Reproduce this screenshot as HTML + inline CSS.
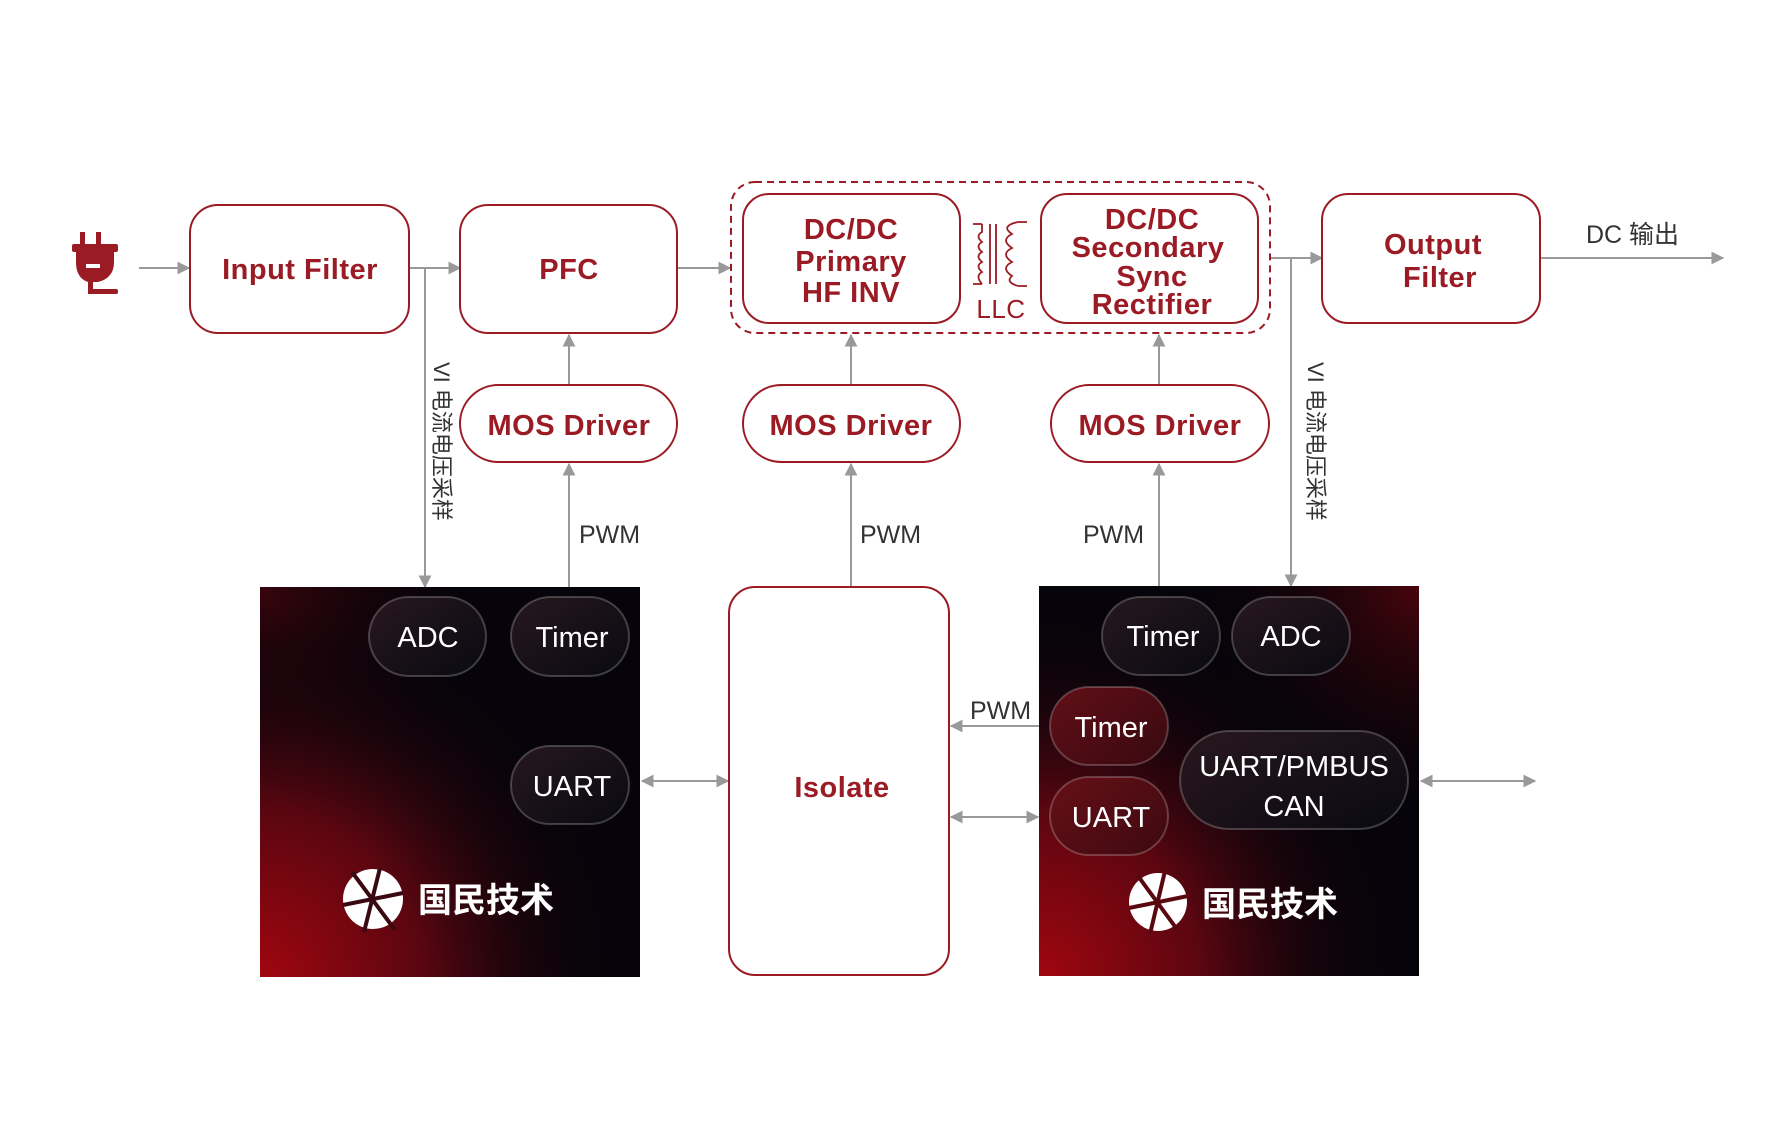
<!DOCTYPE html>
<html><head><meta charset="utf-8"><style>
html,body{margin:0;padding:0;background:#fff;width:1780px;height:1146px;overflow:hidden}
svg{display:block}
text{font-family:"Liberation Sans","Noto Sans CJK SC",sans-serif}
</style></head><body>
<svg width="1780" height="1146" viewBox="0 0 1780 1146" xmlns="http://www.w3.org/2000/svg">
<defs>
<marker id="ar" viewBox="0 0 10 10" refX="9" refY="5" markerWidth="13" markerHeight="14" markerUnits="userSpaceOnUse" orient="auto-start-reverse">
<path d="M0,0 L10,5 L0,10 z" fill="#999"/></marker>
<radialGradient id="gL1" cx="0" cy="1" r="0.95"><stop offset="0" stop-color="#a0060f"/><stop offset="0.45" stop-color="#5a0610"/><stop offset="1" stop-color="#050309" stop-opacity="0"/></radialGradient>
<radialGradient id="gL2" cx="0" cy="0" r="0.6"><stop offset="0" stop-color="#3a040c"/><stop offset="1" stop-color="#050309" stop-opacity="0"/></radialGradient>
<radialGradient id="gR1" cx="0" cy="1" r="0.95"><stop offset="0" stop-color="#a0060f"/><stop offset="0.45" stop-color="#5a0610"/><stop offset="1" stop-color="#050309" stop-opacity="0"/></radialGradient>
<radialGradient id="gR2" cx="1" cy="0" r="0.6"><stop offset="0" stop-color="#4a040c"/><stop offset="1" stop-color="#050309" stop-opacity="0"/></radialGradient>
<linearGradient id="pill" x1="0" y1="0" x2="1" y2="1"><stop offset="0" stop-color="#2a1a20" stop-opacity="0.9"/><stop offset="1" stop-color="#0a0a12" stop-opacity="0.9"/></linearGradient>
<linearGradient id="pillR" x1="0" y1="0" x2="1" y2="1"><stop offset="0" stop-color="#6a1018" stop-opacity="0.9"/><stop offset="1" stop-color="#3a0a10" stop-opacity="0.9"/></linearGradient>
</defs>

<g fill="#9b1b24">
<rect x="80" y="232" width="5" height="14"/><rect x="96" y="232" width="5" height="14"/>
<rect x="72" y="244" width="46" height="8" rx="2"/>
<path d="M76,252 H114 V262 Q114,278 98,282 H88 Q76,278 76,262 Z"/>
<rect x="88" y="282" width="5" height="12"/>
<rect x="88" y="289" width="30" height="5" rx="2"/>
</g>
<rect x="86" y="264" width="14" height="4" fill="#fff"/>

<g stroke="#999" stroke-width="2" fill="none">
<line x1="139" y1="268" x2="189" y2="268" marker-end="url(#ar)"/>
<line x1="409" y1="268" x2="460" y2="268" marker-end="url(#ar)"/>
<line x1="425" y1="268" x2="425" y2="587" marker-end="url(#ar)"/>
<line x1="677" y1="268" x2="730" y2="268" marker-end="url(#ar)"/>
<line x1="1270" y1="258" x2="1322" y2="258" marker-end="url(#ar)"/>
<line x1="1291" y1="258" x2="1291" y2="586" marker-end="url(#ar)"/>
<line x1="1540" y1="258" x2="1723" y2="258" marker-end="url(#ar)"/>
<line x1="569" y1="385" x2="569" y2="335" marker-end="url(#ar)"/>
<line x1="569" y1="587" x2="569" y2="464" marker-end="url(#ar)"/>
<line x1="851" y1="385" x2="851" y2="335" marker-end="url(#ar)"/>
<line x1="851" y1="587" x2="851" y2="464" marker-end="url(#ar)"/>
<line x1="1159" y1="385" x2="1159" y2="335" marker-end="url(#ar)"/>
<line x1="1159" y1="586" x2="1159" y2="464" marker-end="url(#ar)"/>
<line x1="642" y1="781" x2="728" y2="781" marker-start="url(#ar)" marker-end="url(#ar)"/>
<line x1="1039" y1="726" x2="951" y2="726" marker-end="url(#ar)"/>
<line x1="951" y1="817" x2="1038" y2="817" marker-start="url(#ar)" marker-end="url(#ar)"/>
<line x1="1421" y1="781" x2="1535" y2="781" marker-start="url(#ar)" marker-end="url(#ar)"/>
</g>

<g fill="#fff" stroke="#9b1b24" stroke-width="2">
<rect x="190" y="205" width="219" height="128" rx="28"/>
<rect x="460" y="205" width="217" height="128" rx="28"/>
<rect x="731" y="182" width="539" height="151" rx="24" stroke-dasharray="7,5"/>
<rect x="743" y="194" width="217" height="129" rx="26"/>
<rect x="1041" y="194" width="217" height="129" rx="26"/>
<rect x="1322" y="194" width="218" height="129" rx="26"/>
<rect x="460" y="385" width="217" height="77" rx="38.5"/>
<rect x="743" y="385" width="217" height="77" rx="38.5"/>
<rect x="1051" y="385" width="218" height="77" rx="38.5"/>
<rect x="729" y="587" width="220" height="388" rx="26"/>
</g>

<g stroke="#9b1b24" stroke-width="1.8" fill="none">
<path d="M973,224 H982 M973,284 H982 M982,224 V232 Q975,236 982,242 Q975,246 982,252 Q975,256 982,262 Q975,266 982,272 Q975,276 982,284"/>
<line x1="990" y1="224" x2="990" y2="284"/><line x1="996" y1="224" x2="996" y2="284"/>
<path d="M1027,222 H1018 M1027,286 H1018 M1018,222 Q1000,226 1012,234 Q1000,240 1012,248 Q1000,254 1012,262 Q1000,268 1012,276 Q1005,282 1018,286"/>
</g>

<g fill="#9b1b24" font-size="29" font-weight="bold" text-anchor="middle" letter-spacing="0.5">
<text x="300" y="279">Input Filter</text>
<text x="569" y="279">PFC</text>
<text x="851" y="239">DC/DC</text>
<text x="851" y="271">Primary</text>
<text x="851" y="302">HF INV</text>
<text x="1001" y="318" font-size="26" font-weight="normal">LLC</text>
<text x="1152" y="229">DC/DC</text>
<text x="1148" y="257">Secondary</text>
<text x="1152" y="286">Sync</text>
<text x="1152" y="314">Rectifier</text>
<text x="1433" y="254">Output</text>
<text x="1440" y="287">Filter</text>
<text x="569" y="435">MOS Driver</text>
<text x="851" y="435">MOS Driver</text>
<text x="1160" y="435">MOS Driver</text>
<text x="842" y="797" font-size="29">Isolate</text>
</g>

<g fill="#333" font-size="25">
<text x="579" y="543">PWM</text>
<text x="860" y="543">PWM</text>
<text x="1083" y="543">PWM</text>
<text x="970" y="719">PWM</text>
<text x="1586" y="243">DC 输出</text>
<text transform="translate(434,362) rotate(90)" font-size="22">VI 电流电压采样</text>
<text transform="translate(1308,362) rotate(90)" font-size="22">VI 电流电压采样</text>
</g>

<rect x="260" y="587" width="380" height="390" fill="#06040a"/>
<rect x="260" y="587" width="380" height="390" fill="url(#gL2)"/>
<rect x="260" y="587" width="380" height="390" fill="url(#gL1)"/>
<rect x="1039" y="586" width="380" height="390" fill="#06040a"/>
<rect x="1039" y="586" width="380" height="390" fill="url(#gR2)"/>
<rect x="1039" y="586" width="380" height="390" fill="url(#gR1)"/>

<g stroke="rgba(255,255,255,0.22)" stroke-width="2" fill="url(#pill)">
<rect x="369" y="597" width="117" height="79" rx="39.5"/>
<rect x="511" y="597" width="118" height="79" rx="39.5"/>
<rect x="511" y="746" width="118" height="78" rx="39"/>
<rect x="1102" y="597" width="118" height="78" rx="39"/>
<rect x="1232" y="597" width="118" height="78" rx="39"/>
<rect x="1180" y="731" width="228" height="98" rx="49"/>
</g>
<g stroke="rgba(255,255,255,0.22)" stroke-width="2" fill="url(#pillR)">
<rect x="1050" y="687" width="118" height="78" rx="39"/>
<rect x="1050" y="777" width="118" height="78" rx="39"/>
</g>
<g fill="#fff" font-size="29" text-anchor="middle">
<text x="428" y="647">ADC</text>
<text x="572" y="647">Timer</text>
<text x="572" y="796">UART</text>
<text x="1163" y="646">Timer</text>
<text x="1291" y="646">ADC</text>
<text x="1111" y="737">Timer</text>
<text x="1111" y="827">UART</text>
<text x="1294" y="776">UART/PMBUS</text>
<text x="1294" y="816">CAN</text>
</g>

<circle cx="373" cy="899" r="30" fill="#fff"/>
<g stroke="#3a0810" stroke-width="4">
<line x1="352" y1="872" x2="395" y2="930"/>
<line x1="343" y1="905" x2="403" y2="893"/>
<line x1="380" y1="868" x2="364" y2="932"/>
</g>
<text x="418" y="912" fill="#fff" font-size="34" font-weight="bold">国民技术</text>
<circle cx="1158" cy="902" r="29" fill="#fff"/>
<g stroke="#5a0810" stroke-width="4">
<line x1="1138" y1="876" x2="1179" y2="932"/>
<line x1="1129" y1="908" x2="1188" y2="896"/>
<line x1="1165" y1="871" x2="1150" y2="934"/>
</g>
<text x="1202" y="916" fill="#fff" font-size="34" font-weight="bold">国民技术</text>
</svg>
</body></html>
